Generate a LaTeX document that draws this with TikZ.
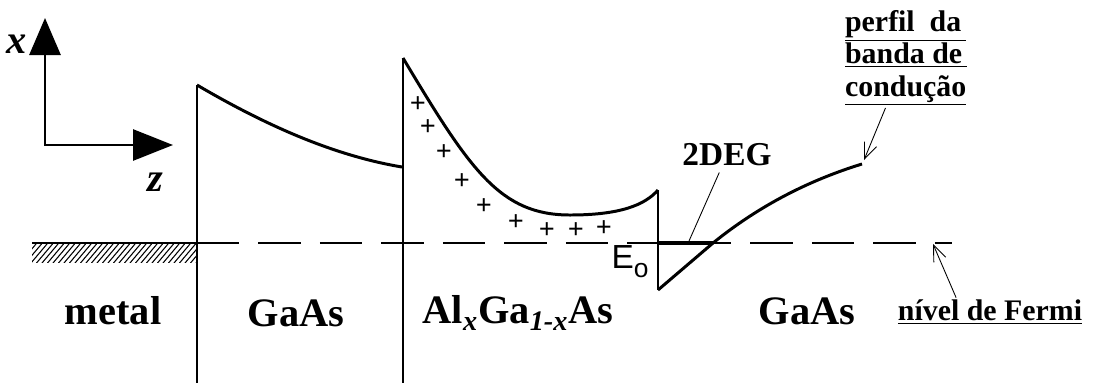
\documentclass[tikz,border=0pt]{standalone}
\usepackage{fontspec}
\setmainfont{Liberation Serif}
\setsansfont{Liberation Sans}
\usetikzlibrary{arrows.meta,calc}

\begin{document}
\begin{tikzpicture}[
  x=0.02cm, y=-0.02cm,
  >={Straight Barb[length=3.2mm,width=2.6mm]},
  band/.style={line width=1.7pt, line join=round},
  wall/.style={line width=1.1pt},
  efermi/.style={line width=0.6pt, dash pattern=on 24pt off 11pt},
  axis/.style={line width=1.6pt},
  layer/.style={font=\fontsize{23}{26}\selectfont\bfseries, inner sep=0pt},
  note/.style={font=\fontsize{17}{18.5}\selectfont\bfseries, align=left, inner sep=1pt},
  lead/.style={->, line width=0.5pt},
  plus/.style={font=\fontsize{16}{16}\selectfont\bfseries, inner sep=0pt},
]
\useasboundingbox (0,0) rectangle (1095,390);
\def\yf{243}
% ---------------------------------------------------------------- axes
\draw[axis, {Triangle[length=7.4mm,width=6.2mm]}-{Triangle[length=8mm,width=6.2mm]}]
  (45,18) -- (45,145) -- (173,145);
\node[font=\fontsize{23}{23}\selectfont\bfseries\itshape] (xlab) at (17,44) {x};
\node[font=\fontsize{23}{23}\selectfont\bfseries\itshape] (zlab) at (155,182) {z};

% ---------------------------------------------------------------- metal
\begin{scope}
  \clip (32,\yf) rectangle (197,262);
  \foreach \h in {20,25.5,...,200}
    \draw[line width=0.6pt] (\h,263) -- (\h+16,244);
\end{scope}
\draw[line width=1.3pt] (32,\yf) -- (197,\yf);

% ---------------------------------------------------------------- walls and band profile
\draw[wall] (197,85) -- (197,383);
\draw[wall] (403,58) -- (403,383);
\draw[wall] (658,190) -- (658,290);
\draw[band] (197,85) .. controls (260,122) and (330,155) .. (402,167);
\draw[band] (403,58) .. controls (470,170) and (500,215) .. (570,215)
  .. controls (620,215) and (645,205) .. (658,190);
\draw[band] (658,290) -- (713,\yf) .. controls (760,205) and (810,180) .. (862,164);

% fermi level and 2DEG
\draw[efermi] (197,\yf) -- (952,\yf);
\draw[line width=2.4pt] (658,\yf) -- (713,\yf);

% ionised donors
\foreach \p in {(418,105),(428,128),(444,153),(462,182),(484,207),(516,223),(547,231),(576,231),(604,229)}
  \node[plus] at \p {+};

% ---------------------------------------------------------------- labels
\node[layer] (metal) at (113,311) {metal};
\node[layer] (gaas1) at (296,313) {GaAs};
\node[layer] (algaas) at (518,313) {Al\textsubscript{\textit{x}}Ga\textsubscript{\textit{1-x}}As};
\node[layer] (gaas2) at (807,311) {GaAs};
\node[font=\fontsize{19}{19}\selectfont\sffamily] (e0) at (630,262) {E\raisebox{-0.5ex}{\fontsize{15}{15}\selectfont o}};

\node[font=\fontsize{19}{19}\selectfont\bfseries] (twodeg) at (727,155) {2DEG};
\coordinate (gas) at (689,241);
\draw[line width=0.5pt] (twodeg) -- (gas);

\node[note, anchor=north west] (perfil) at (843,8)
  {\underline{perfil\enspace da\,}\\ \underline{banda de\,}\\ \underline{condução}};
\coordinate (bandend) at (864,160);
\draw[lead] (perfil) -- (bandend);

\node[note] (fermi) at (990,312) {\underline{nível de Fermi}};
\coordinate (fermiend) at (933,244);
\draw[lead] ($(fermi.north west)!0.32!(fermi.north east)$) -- (fermiend);
\end{tikzpicture}
\end{document}
